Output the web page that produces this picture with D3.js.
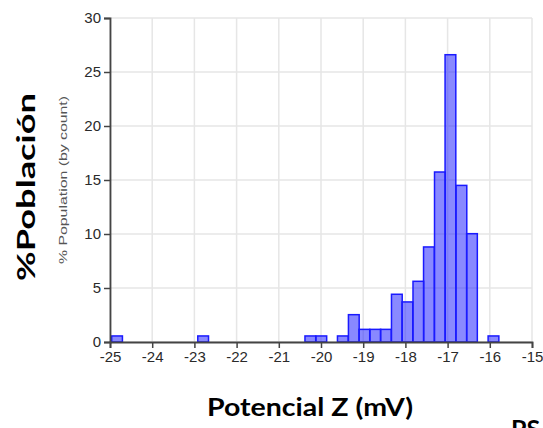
<!DOCTYPE html>
<html>
  <head>
    <meta charset="utf-8" />
    <title>Potencial Z histogram</title>
    <script src="https://d3js.org/d3.v7.min.js"></script>
    <style>
      body { margin: 0; background: #fff; }
      svg { display: block; }
      .big { font-family: Lato, 'Open Sans', sans-serif; font-weight: bold; fill: #000; }
    </style>
  </head>
  <body>
    <div id="chart"></div>
    <script>
      // bin left edges (mV) and % population per bin
      const binStarts = [-24.96, -22.92, -20.38, -20.12, -19.61, -19.35, -19.10, -18.84, -18.59,
        -18.33, -18.08, -17.82, -17.57, -17.31, -17.06, -16.80, -16.55, -16.04];
      const binValues = [0.56, 0.56, 0.56, 0.56, 0.56, 2.53, 1.17, 1.17, 1.17,
        4.42, 3.71, 5.62, 8.8, 15.74, 26.6, 14.5, 10.03, 0.56];
      const binWidth = 0.2545;
      const xTicks = [-25, -24, -23, -22, -21, -20, -19, -18, -17, -16, -15];
      const yTicks = [0, 5, 10, 15, 20, 25, 30];

      const width = 543;
      const height = 428;
      const margin = { top: 18, right: 11, bottom: 86, left: 110 };

      const svg = d3.select('#chart').append('svg')
        .attr('width', width).attr('height', height);

      const x = d3.scaleLinear().domain([-25, -15]).range([margin.left, width - margin.right]);
      const y = d3.scaleLinear().domain([0, 30]).range([height - margin.bottom, margin.top]);

      // grid
      const grid = svg.append('g').attr('stroke', '#e6e6e6').attr('stroke-width', 1.5);
      grid.selectAll('.vx').data(xTicks).join('line')
        .attr('x1', (d) => x(d)).attr('x2', (d) => x(d))
        .attr('y1', y(30)).attr('y2', y(0));
      grid.selectAll('.hy').data(yTicks).join('line')
        .attr('x1', x(-25)).attr('x2', x(-15))
        .attr('y1', (d) => y(d)).attr('y2', (d) => y(d));

      // bars
      svg.append('g').selectAll('rect')
        .data(binStarts.map((s, i) => ({ x0: s, x1: s + binWidth, v: binValues[i] })))
        .join('rect')
        .attr('x', (d) => x(d.x0))
        .attr('width', (d) => x(d.x1) - x(d.x0))
        .attr('y', (d) => y(d.v))
        .attr('height', (d) => y(0) - y(d.v))
        .attr('fill', 'rgba(40,40,255,0.55)')
        .attr('stroke', '#1a1aff')
        .attr('stroke-width', 1.5);

      // axes
      const xAxis = svg.append('g')
        .attr('transform', `translate(0,${y(0)})`)
        .call(d3.axisBottom(x).tickValues(xTicks).tickSize(6).tickPadding(3).tickFormat(d3.format('d')));
      const yAxis = svg.append('g')
        .attr('transform', `translate(${x(-25)},0)`)
        .call(d3.axisLeft(y).tickValues(yTicks).tickSize(6).tickPadding(3));
      [xAxis, yAxis].forEach((g) => {
        g.attr('font-family', "'Liberation Sans', Arial, sans-serif").attr('font-size', 15);
        g.select('.domain').attr('stroke', '#444').attr('stroke-width', 1.8);
        g.selectAll('.tick line').attr('stroke', '#444').attr('stroke-width', 1.5);
        g.selectAll('.tick text')
          .attr('fill', '#2a2a2a')
          .text(function () { return this.textContent.replace('−', '-'); });
      });

      // small axis title
      svg.append('text')
        .attr('transform', 'translate(67,180) rotate(-90)')
        .attr('text-anchor', 'middle')
        .attr('font-family', "'Liberation Sans', Arial, sans-serif")
        .attr('font-size', 11)
        .attr('fill', '#555')
        .attr('textLength', 168)
        .attr('lengthAdjust', 'spacingAndGlyphs')
        .text('% Population (by count)');

      // big labels
      svg.append('text').attr('class', 'big')
        .attr('transform', 'translate(35,187) rotate(-90)')
        .attr('text-anchor', 'middle')
        .attr('font-size', 25)
        .attr('textLength', 188)
        .attr('lengthAdjust', 'spacingAndGlyphs')
        .text('%Población');

      svg.append('text').attr('class', 'big')
        .attr('x', 310).attr('y', 416)
        .attr('text-anchor', 'middle')
        .attr('font-size', 25)
        .attr('textLength', 206)
        .attr('lengthAdjust', 'spacingAndGlyphs')
        .text('Potencial Z (mV)');

      svg.append('text').attr('class', 'big')
        .attr('x', 511).attr('y', 438)
        .attr('font-size', 25)
        .text('PS');
    </script>
  </body>
</html>
